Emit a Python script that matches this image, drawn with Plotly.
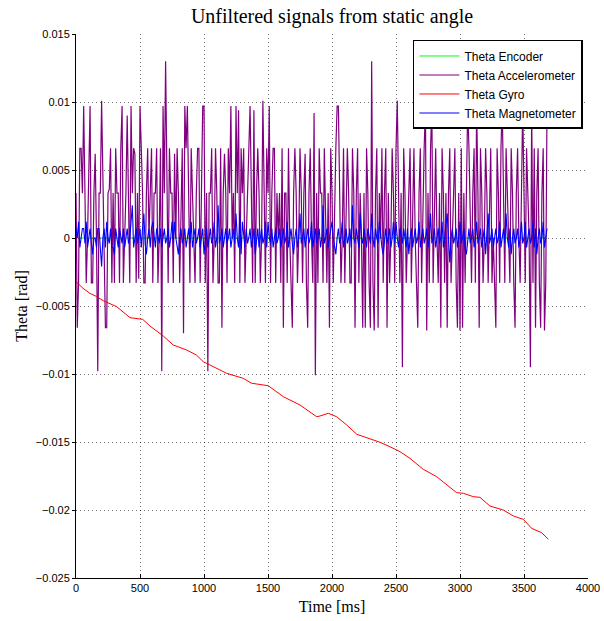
import plotly.graph_objects as go

# ---------------- data ----------------
# sample times (ms) for accelerometer / magnetometer, 10 ms steps
time_ms = list(range(0, 3690, 10))  # 0 .. 3680

theta_accel = [
    0.0033, -0.0066, -0.0033, 0.0066, 0.0066, 0.0033, 0.0097, 0.0033, -0.0033, 0.0,
    0.0066, 0.0097, -0.0033, -0.0033, 0.0033, 0.0062, 0.0, -0.0098, 0.0033, 0.0033,
    0.0101, 0.0033, 0.0, -0.0066, -0.0066, 0.0033, 0.0036, 0.0066, -0.0033, 0.0033,
    -0.0033, 0.0066, 0.0033, 0.0033, -0.0033, 0.0066, 0.0097, -0.0033, 0.0, 0.0033,
    0.0090, 0.0033, -0.0033, 0.0097, 0.0033, 0.0066, 0.0062, -0.0033, 0.0033, -0.0030,
    0.0097, 0.0066, 0.0033, -0.0033, -0.0033, 0.0033, 0.0066, 0.0, 0.0033, 0.0066,
    -0.0033, 0.0033, 0.0033, 0.0066, -0.0033, 0.0, 0.0066, -0.0098, 0.0097, 0.0033,
    0.0130, 0.0033, -0.0033, 0.0066, 0.0033, 0.0033, -0.0033, 0.0062, 0.0, 0.0066,
    0.0033, -0.0033, 0.0033, 0.0066, -0.0070, 0.0097, 0.0066, 0.0097, 0.0033, -0.0033,
    0.0066, 0.0033, 0.0, -0.0033, 0.0033, 0.0066, 0.0066, -0.0033, 0.0033, 0.0097,
    0.0097, -0.0033, 0.0033, -0.0098, 0.0033, 0.0033, 0.0066, -0.0033, 0.0, 0.0066,
    0.0033, -0.0033, -0.0033, 0.0066, -0.0066, 0.0033, 0.0062, 0.0033, -0.0033, 0.0066,
    0.0033, 0.0097, 0.0, 0.0033, -0.0033, 0.0097, 0.0033, 0.0094, -0.0033, 0.0066,
    0.0033, 0.0066, -0.0033, 0.0, 0.0033, 0.0066, 0.0097, 0.0033, -0.0033, 0.0094,
    -0.0033, 0.0033, 0.0066, 0.0033, -0.0033, 0.0, 0.0101, 0.0033, -0.0033, 0.0066,
    0.0033, 0.0097, -0.0033, 0.0033, 0.0066, 0.0066, -0.0033, 0.0033, 0.0, 0.0033,
    -0.0033, 0.0066, -0.0066, 0.0033, 0.0033, -0.0033, 0.0066, 0.0, -0.0033, -0.0066,
    0.0033, 0.0066, 0.0033, -0.0033, 0.0, 0.0066, 0.0033, -0.0033, 0.0033, 0.0062,
    -0.0033, -0.0066, 0.0033, 0.0066, 0.0, -0.0033, 0.0092, -0.0101, 0.0033, -0.0033,
    0.0066, 0.0033, 0.0033, -0.0033, 0.0066, 0.0, -0.0033, 0.0033, -0.0066, 0.0066,
    0.0033, -0.0033, 0.0033, 0.0066, 0.0097, 0.0097, 0.0033, -0.0033, 0.0, 0.0066,
    -0.0033, 0.0033, 0.0066, 0.0033, -0.0033, -0.0033, 0.0066, 0.0033, -0.0066, 0.0033,
    0.0066, -0.0033, 0.0033, 0.0, -0.0066, 0.0033, -0.0066, 0.0066, 0.0033, -0.0033,
    -0.0066, 0.0130, -0.0033, -0.0068, 0.0033, 0.0066, -0.0066, 0.0033, 0.0, 0.0066,
    -0.0033, 0.0033, 0.0066, -0.0066, 0.0033, -0.0033, 0.0, 0.0066, 0.0033, -0.0033,
    0.0066, 0.0101, 0.0033, -0.0033, 0.0033, -0.0095, 0.0066, 0.0033, -0.0033, 0.0,
    0.0033, 0.0066, -0.0033, 0.0033, 0.0066, 0.0, -0.0033, -0.0066, 0.0033, 0.0066,
    -0.0033, 0.0033, 0.0066, 0.0097, -0.0068, 0.0033, -0.0033, 0.0066, 0.0097, -0.0033,
    0.0033, 0.0066, 0.0, -0.0033, 0.0033, -0.0066, 0.0066, 0.0033, -0.0033, 0.0033,
    -0.0066, 0.0033, 0.0066, -0.0033, 0.0, 0.0033, 0.0066, -0.0033, -0.0066, 0.0033,
    -0.0068, 0.0066, -0.0066, 0.0033, -0.0033, 0.0033, 0.0097, 0.0066, 0.0, -0.0033,
    0.0033, 0.0066, -0.0033, 0.0097, 0.0033, -0.0066, 0.0066, 0.0033, -0.0033, 0.0,
    0.0066, 0.0033, -0.0033, 0.0033, 0.0066, -0.0033, 0.0, -0.0033, -0.0066, 0.0066,
    0.0033, -0.0033, 0.0066, 0.0097, 0.0033, -0.0033, 0.0066, 0.0033, 0.0, -0.0033,
    0.0066, 0.0033, -0.0033, -0.0066, 0.0033, 0.0066, 0.0, -0.0033, 0.0033, 0.0097,
    0.0033, -0.0033, 0.0066, 0.0033, 0.0, -0.0095, 0.0097, -0.0033, 0.0066, -0.0066,
    0.0033, 0.0066, -0.0033, -0.0066, 0.0033, 0.0066, -0.0068, -0.0033, 0.0097,
]

theta_magneto = [
    0.0007, 0.0, 0.0012, -0.0007, 0.0, 0.0007, 0.0007, -0.0004, 0.0012, -0.0007,
    0.0, 0.0007, -0.0004, -0.0012, 0.0, 0.0, -0.0007, 0.0007, 0.0007, -0.0004,
    -0.0021, 0.0, 0.0007, -0.0007, 0.0012, 0.0, -0.0004, 0.0007, -0.0007, -0.0007,
    -0.0012, 0.0007, 0.0, -0.0007, 0.0007, 0.0, -0.0004, 0.0007, -0.0007, 0.0,
    0.0007, -0.0004, 0.0, 0.0012, 0.0024, -0.0007, 0.0, 0.0007, -0.0004, 0.0,
    0.0007, -0.0007, 0.0007, 0.0018, -0.0004, -0.0012, 0.0, 0.0007, -0.0007, 0.0007,
    0.0012, 0.0, -0.0007, 0.0007, 0.0, -0.0004, 0.0007, -0.0007, 0.0, 0.0007,
    -0.0004, 0.0, 0.0007, -0.0007, 0.0, 0.0012, -0.0004, 0.0012, 0.0, -0.0007,
    -0.0012, 0.0, 0.0007, -0.0004, 0.0, 0.0007, -0.0007, 0.0, 0.0007, -0.0004,
    0.0012, -0.0007, 0.0, 0.0007, -0.0004, 0.0, 0.0007, -0.0007, 0.0, 0.0007,
    -0.0012, 0.0, 0.0007, -0.0007, 0.0, 0.0007, -0.0004, 0.0, 0.0012, -0.0007,
    0.0, 0.0024, -0.0004, 0.0, 0.0007, -0.0007, 0.0, 0.0007, -0.0004, 0.0,
    0.0007, -0.0007, 0.0, 0.0007, -0.0004, 0.0018, 0.0, -0.0007, 0.0018, -0.0012,
    0.0012, 0.0, -0.0007, 0.0007, -0.0004, 0.0, 0.0007, -0.0007, 0.0, 0.0007,
    -0.0012, 0.0, 0.0007, -0.0007, 0.0, 0.0007, -0.0004, 0.0, 0.0012, -0.0007,
    0.0012, 0.0, -0.0004, 0.0007, -0.0007, 0.0, 0.0007, -0.0004, 0.0, 0.0007,
    -0.0007, 0.0, 0.0007, -0.0004, 0.0, 0.0012, -0.0007, 0.0, 0.0007, -0.0004,
    -0.0012, 0.0, 0.0007, -0.0007, 0.0, 0.0018, -0.0004, 0.0, 0.0007, -0.0007,
    0.0, 0.0007, -0.0004, 0.0, 0.0012, -0.0007, 0.0, 0.0007, -0.0004, 0.0,
    0.0007, -0.0007, 0.0, 0.0024, -0.0004, 0.0, 0.0007, -0.0007, 0.0, 0.0007,
    0.0012, 0.0, -0.0007, -0.0012, 0.0, 0.0007, -0.0004, 0.0, 0.0012, -0.0007,
    0.0, 0.0007, -0.0004, 0.0, 0.0007, -0.0007, 0.0024, 0.0, -0.0004, 0.0007,
    0.0, -0.0007, 0.0018, 0.0, -0.0004, 0.0007, 0.0, -0.0007, 0.0007, 0.0,
    -0.0004, 0.0018, 0.0, -0.0007, 0.0007, 0.0, -0.0004, 0.0012, 0.0, -0.0007,
    -0.0012, 0.0, 0.0007, -0.0004, 0.0, 0.0007, -0.0007, 0.0, 0.0012, -0.0004,
    0.0012, 0.0, -0.0007, 0.0007, 0.0, -0.0004, 0.0007, 0.0, -0.0007, 0.0007,
    -0.0012, 0.0, 0.0007, -0.0007, 0.0, 0.0007, -0.0004, 0.0, 0.0012, -0.0007,
    0.0, 0.0007, -0.0004, 0.0, 0.0007, -0.0007, 0.0, 0.0018, -0.0004, 0.0,
    0.0007, -0.0007, 0.0, 0.0007, -0.0004, 0.0, 0.0012, -0.0007, 0.0, 0.0007,
    0.0018, 0.0, -0.0018, 0.0, 0.0007, -0.0004, 0.0, 0.0007, -0.0007, 0.0,
    0.0012, -0.0004, 0.0, 0.0007, -0.0007, -0.0012, 0.0, 0.0007, -0.0004, 0.0,
    0.0007, -0.0007, 0.0, 0.0012, -0.0004, 0.0, 0.0007, -0.0007, 0.0, 0.0007,
    -0.0012, 0.0, 0.0018, -0.0004, 0.0, 0.0007, -0.0007, 0.0, 0.0007, -0.0004,
    0.0, 0.0012, -0.0007, 0.0, 0.0007, -0.0004, 0.0018, 0.0, -0.0007, 0.0007,
    -0.0012, 0.0, 0.0007, -0.0004, 0.0, 0.0007, -0.0007, 0.0, 0.0012, -0.0004,
    0.0, 0.0012, -0.0007, 0.0, 0.0007, -0.0004, 0.0, 0.0012, -0.0007, 0.0007,
    -0.0012, 0.0, 0.0007, -0.0004, 0.0, 0.0012, -0.0007, 0.0, 0.0007,
]

gyro_time_ms = [0, 55, 109, 160, 213, 318, 422, 521, 578, 682, 760, 865, 940, 995,
                1047, 1177, 1307, 1372, 1502, 1620, 1750, 1880, 1906, 1971, 2036,
                2115, 2193, 2284, 2375, 2453, 2531, 2609, 2713, 2818, 2896, 2974,
                3026, 3104, 3156, 3234, 3338, 3417, 3495, 3560, 3638, 3690]
theta_gyro = [-0.00321, -0.00370, -0.00407, -0.00430, -0.00461, -0.00505, -0.00586,
              -0.00598, -0.00647, -0.00721, -0.00787, -0.00824, -0.00860, -0.00910,
              -0.00934, -0.00995, -0.01032, -0.01068, -0.01086, -0.01167, -0.01228,
              -0.01314, -0.01309, -0.01289, -0.01314, -0.01375, -0.01443, -0.01473,
              -0.01502, -0.01535, -0.01571, -0.01620, -0.01701, -0.01755, -0.01811,
              -0.01873, -0.01877, -0.01902, -0.01907, -0.01971, -0.02000, -0.02044,
              -0.02069, -0.02135, -0.02167, -0.02215]

encoder_time_ms = [0, 3680]
theta_encoder = [0.0, 0.0]

x_ticks = [0, 500, 1000, 1500, 2000, 2500, 3000, 3500, 4000]
x_tick_text = ["0", "500", "1000", "1500", "2000", "2500", "3000", "3500", "4000"]
y_ticks = [0.015, 0.01, 0.005, 0, -0.005, -0.01, -0.015, -0.02, -0.025]
y_tick_text = ["0.015", "0.01", "0.005", "0", "\u22120.005", "\u22120.01",
               "\u22120.015", "\u22120.02", "\u22120.025"]

# ---------------- figure ----------------
fig = go.Figure()
fig.add_trace(go.Scatter(x=encoder_time_ms, y=theta_encoder, mode="lines",
                         name="Theta Encoder", line=dict(color="#00ff00", width=1)))
fig.add_trace(go.Scatter(x=time_ms, y=theta_accel, mode="lines",
                         name="Theta Accelerometer", line=dict(color="#800080", width=1.2)))
fig.add_trace(go.Scatter(x=gyro_time_ms, y=theta_gyro, mode="lines",
                         name="Theta Gyro", line=dict(color="#ff0000", width=1)))
fig.add_trace(go.Scatter(x=time_ms, y=theta_magneto, mode="lines",
                         name="Theta Magnetometer", line=dict(color="#0000ff", width=1.1)))

grid = dict(showgrid=True, gridcolor="rgba(0,0,0,0.55)", gridwidth=1, griddash="1px,3px")

fig.update_layout(
    template="none",
    width=604, height=621,
    margin=dict(l=76, r=16, t=34, b=43, autoexpand=False),
    paper_bgcolor="white", plot_bgcolor="white",
    title=dict(text="Unfiltered signals from static angle",
               font=dict(family="Liberation Serif, Times New Roman, serif", size=20, color="black"),
               x=(76 + 256) / 604, xanchor="center", y=1 - 16 / 621, yanchor="middle"),
    font=dict(family="Liberation Sans, Arial, sans-serif", size=11, color="black"),
    showlegend=True,
    legend=dict(x=0.658, y=0.989, xanchor="left", yanchor="top",
                bgcolor="white", bordercolor="black", borderwidth=1.5,
                font=dict(family="Liberation Sans, Arial, sans-serif", size=12, color="black"),
                tracegroupgap=0, itemwidth=40),
)

fig.update_xaxes(range=[0, 4000], tickvals=x_ticks, ticktext=x_tick_text,
                 automargin=False,
                 ticks="inside", ticklen=4, tickcolor="black",
                 showline=True, linecolor="black", linewidth=1, mirror=False,
                 zeroline=False, tickfont=dict(size=11),
                 title=dict(text="Time [ms]", standoff=7,
                            font=dict(family="Liberation Serif, Times New Roman, serif", size=16)),
                 **grid)
fig.update_yaxes(range=[-0.025, 0.015], tickvals=y_ticks, ticktext=y_tick_text,
                 automargin=False,
                 ticks="outside", ticklen=3, tickcolor="black",
                 showline=True, linecolor="black", linewidth=1, mirror=False,
                 zeroline=False, tickfont=dict(size=11),
                 title=dict(text="Theta [rad]", standoff=4,
                            font=dict(family="Liberation Serif, Times New Roman, serif", size=16)),
                 **grid)

fig.write_html("out.html")
